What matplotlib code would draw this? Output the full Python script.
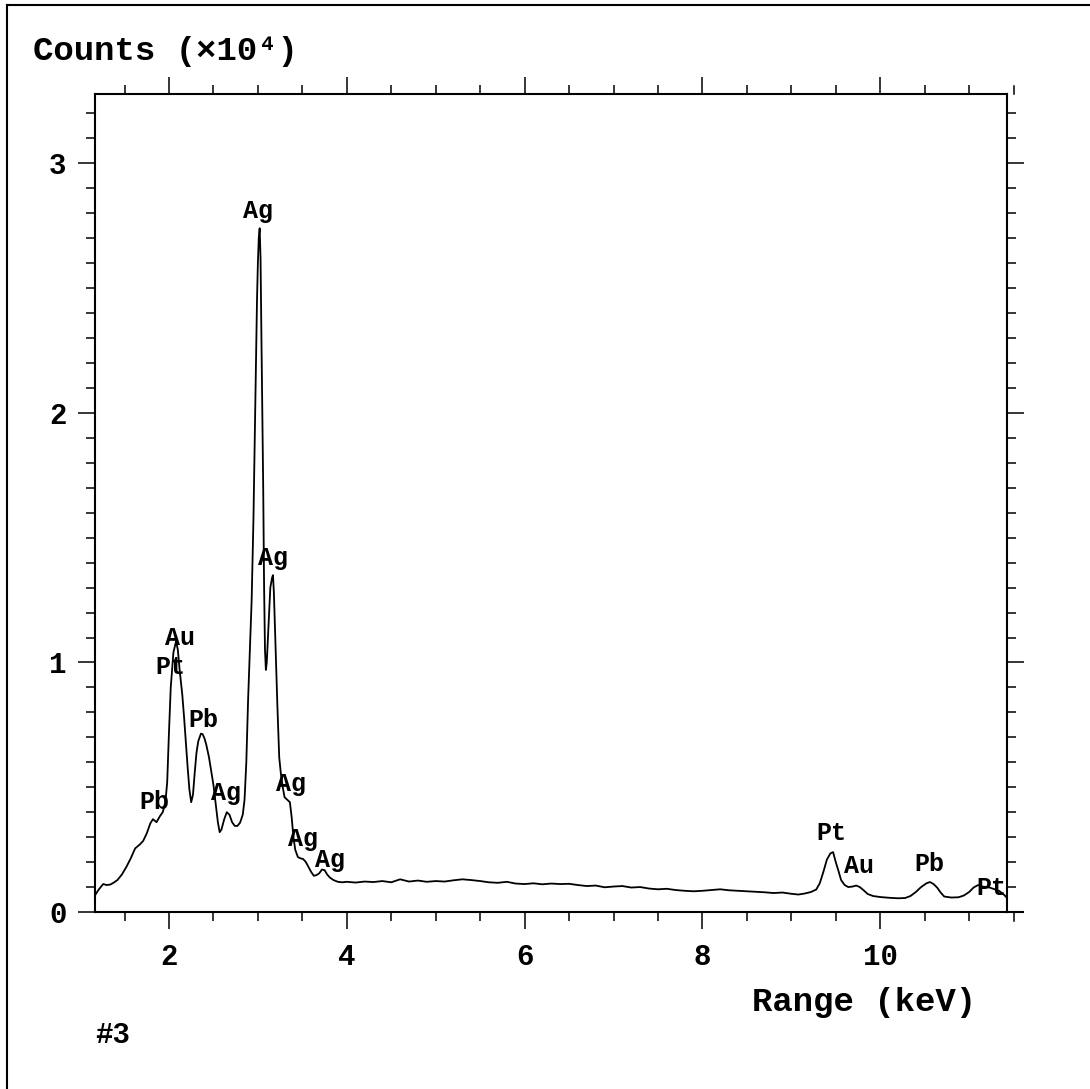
import matplotlib
matplotlib.use("Agg")
import matplotlib.pyplot as plt
from matplotlib.lines import Line2D
from matplotlib.ticker import MultipleLocator

# ---- data (energy in keV, counts in units of 1e4) ----
energy = [
    1.17, 1.21, 1.26, 1.30, 1.34, 1.38, 1.42, 1.47, 1.52, 1.57, 1.62, 1.67, 1.71, 1.75,
    1.79, 1.82, 1.86, 1.90, 1.93, 1.96, 1.98, 2.00, 2.02, 2.05, 2.08, 2.10, 2.12, 2.15,
    2.17, 2.19, 2.21, 2.23, 2.25, 2.27, 2.29, 2.31, 2.33, 2.36, 2.38, 2.40, 2.42, 2.45,
    2.47, 2.50, 2.52, 2.55, 2.57, 2.59, 2.62, 2.65, 2.68, 2.71, 2.74, 2.77, 2.80, 2.83,
    2.85, 2.87, 2.89, 2.91, 2.93, 2.95, 2.97, 2.99, 3.00, 3.01, 3.02, 3.03, 3.04, 3.06,
    3.07, 3.08, 3.09, 3.10, 3.12, 3.14, 3.16, 3.17, 3.18, 3.20, 3.22, 3.24, 3.26, 3.28,
    3.30, 3.33, 3.36, 3.38, 3.40, 3.42, 3.45, 3.48, 3.51, 3.54, 3.57, 3.60, 3.63, 3.66,
    3.69, 3.72, 3.75, 3.78, 3.81, 3.85, 3.90,
    3.95, 4.00, 4.10, 4.20, 4.30, 4.40, 4.50, 4.60, 4.70, 4.80, 4.90, 5.00, 5.10, 5.20,
    5.30, 5.40, 5.50, 5.60, 5.70, 5.80, 5.90, 6.00, 6.10, 6.20, 6.30, 6.40, 6.50, 6.60,
    6.70, 6.80, 6.90, 7.00, 7.10, 7.20, 7.30, 7.40, 7.50, 7.60, 7.70, 7.80, 7.90, 8.00,
    8.10, 8.20, 8.30, 8.40, 8.50, 8.60, 8.70, 8.80, 8.90, 9.00, 9.08, 9.15, 9.22, 9.28,
    9.32, 9.36, 9.40, 9.44, 9.47, 9.50, 9.53, 9.56, 9.60, 9.64, 9.69, 9.73, 9.77, 9.81,
    9.86, 9.92, 10.00, 10.10, 10.20, 10.28, 10.34, 10.40, 10.46, 10.52, 10.56, 10.60,
    10.64, 10.68, 10.72, 10.80, 10.88, 10.94, 11.00, 11.05, 11.10, 11.15, 11.22, 11.28,
    11.34, 11.39, 11.43,
]
counts = [
    0.068, 0.090, 0.112, 0.108, 0.110, 0.118, 0.128, 0.150, 0.180, 0.215, 0.255, 0.270, 0.285, 0.315,
    0.355, 0.372, 0.360, 0.385, 0.400, 0.440, 0.520, 0.720, 0.900, 1.040, 1.085, 1.050, 0.970, 0.870,
    0.780, 0.680, 0.580, 0.490, 0.440, 0.470, 0.560, 0.640, 0.685, 0.715, 0.712, 0.695, 0.670, 0.620,
    0.575, 0.510, 0.450, 0.360, 0.320, 0.330, 0.370, 0.400, 0.390, 0.360, 0.345, 0.345, 0.358, 0.390,
    0.450, 0.600, 0.850, 1.050, 1.250, 1.570, 2.000, 2.450, 2.600, 2.700, 2.740, 2.620, 2.300, 1.700,
    1.300, 1.050, 0.970, 1.000, 1.150, 1.300, 1.340, 1.350, 1.280, 1.050, 0.820, 0.620, 0.550, 0.500,
    0.460, 0.450, 0.440, 0.380, 0.300, 0.250, 0.220, 0.215, 0.212, 0.200, 0.180, 0.160, 0.145, 0.148,
    0.155, 0.170, 0.168, 0.150, 0.138, 0.128, 0.121,
    0.119, 0.121, 0.118, 0.122, 0.120, 0.124, 0.119, 0.131, 0.122, 0.126, 0.121, 0.124, 0.122, 0.127,
    0.131, 0.128, 0.124, 0.119, 0.117, 0.121, 0.114, 0.112, 0.115, 0.111, 0.114, 0.112, 0.113, 0.108,
    0.104, 0.106, 0.099, 0.102, 0.104, 0.098, 0.100, 0.094, 0.091, 0.093, 0.088, 0.085, 0.083, 0.085,
    0.088, 0.091, 0.087, 0.085, 0.083, 0.081, 0.079, 0.076, 0.078, 0.073, 0.070, 0.074, 0.080, 0.090,
    0.115, 0.160, 0.210, 0.235, 0.240, 0.200, 0.165, 0.128, 0.108, 0.100, 0.102, 0.106, 0.100, 0.088,
    0.072, 0.064, 0.060, 0.057, 0.055, 0.056, 0.064, 0.080, 0.100, 0.115, 0.120, 0.112,
    0.098, 0.078, 0.062, 0.058, 0.059, 0.066, 0.080, 0.098, 0.108, 0.102, 0.099, 0.092,
    0.084, 0.070, 0.055,
]

peak_names = ["Ag", "Ag", "Au", "Pt", "Pb", "Pb", "Ag", "Ag", "Ag", "Ag", "Pt", "Au", "Pb", "Pt"]
peak_x = [3.00, 3.17, 2.12, 2.02, 2.39, 1.84, 2.64, 3.37, 3.51, 3.81, 9.45, 9.76, 10.55, 11.25]
peak_y = [2.81, 1.42, 1.10, 0.98, 0.77, 0.44, 0.477, 0.513, 0.293, 0.208, 0.317, 0.184, 0.192, 0.096]

x_ticks = [2, 4, 6, 8, 10]
y_ticks = [0, 1, 2, 3]

FONT = ["Liberation Mono", "DejaVu Sans Mono"]

fig = plt.figure(figsize=(10.9, 10.89), dpi=100)
W, H = 1090, 1089
ax = fig.add_axes([95 / W, 1 - 912 / H, (1007 - 95) / W, (912 - 94) / H])

ax.plot(energy, counts, color="black", lw=1.3)
ax.set_xlim(1.168, 11.426)
ax.set_ylim(0, 3.278)

ax.set_xticks(x_ticks)
ax.set_yticks(y_ticks)
ax.xaxis.set_minor_locator(MultipleLocator(0.5))
ax.yaxis.set_minor_locator(MultipleLocator(0.1))
ax.tick_params(which="both", direction="out", top=True, right=True, width=1.1, color="black")
ax.tick_params(which="major", length=12.5)
ax.tick_params(which="minor", length=6.5)
ax.tick_params(axis="x", which="major", pad=10)
ax.tick_params(axis="y", which="major", pad=8)
for lab in ax.get_xticklabels() + ax.get_yticklabels():
    lab.set_family(FONT)
    lab.set_fontweight("bold")
    lab.set_fontsize(21)
for sp in ax.spines.values():
    sp.set_linewidth(1.5)

# extension of the bottom axis line past the right spine with a tick at 11.5
ax.plot([11.426, 11.61], [0, 0], color="black", lw=1.5, clip_on=False)
ax.plot([11.5, 11.5], [0, -0.035], color="black", lw=1.1, clip_on=False)
ax.plot([11.5, 11.5], [3.278, 3.31], color="black", lw=1.1, clip_on=False)

for name, px, py in zip(peak_names, peak_x, peak_y):
    ax.text(px, py, name, family=FONT, fontweight="bold", fontsize=18,
            ha="center", va="center")

fig.text(33 / W, 1 - 60 / H, "Counts (×10⁴)", family=FONT, fontweight="bold",
         fontsize=24.5, ha="left", va="baseline")
fig.text(864 / W, 1 - 1002 / H, "Range (keV)", family=FONT, fontweight="bold",
         fontsize=24.5, ha="center", va="center")
fig.text(95 / W, 1 - 1035 / H, "#3", family=FONT, fontweight="bold",
         fontsize=21, ha="left", va="center")

# outer frame lines (top and left)
fig.add_artist(Line2D([7 / W, 1.0], [1 - 5 / H, 1 - 5 / H], color="black", lw=1.5))
fig.add_artist(Line2D([7 / W, 7 / W], [0.0, 1 - 5 / H], color="black", lw=1.5))

fig.savefig("out.png", dpi=100)
